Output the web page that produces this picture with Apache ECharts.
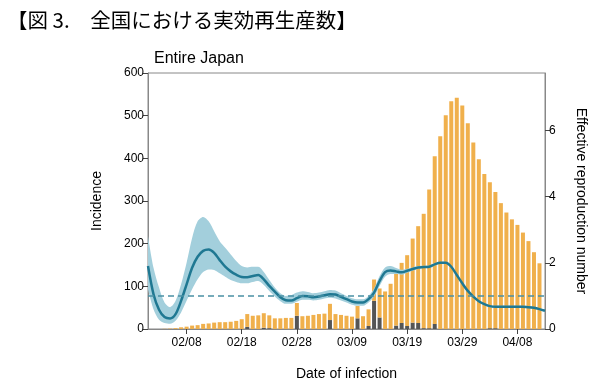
<!DOCTYPE html>
<html>
<head>
<meta charset="utf-8">
<script src="https://cdn.jsdelivr.net/npm/echarts@6/dist/echarts.min.js"></script>
<style>html,body{margin:0;padding:0;background:#fff;}#c{width:610px;height:386px;}</style>
</head>
<body>
<div id="c"></div>
<script>
const dates = ["02/01","02/02","02/03","02/04","02/05","02/06","02/07","02/08","02/09","02/10","02/11","02/12","02/13","02/14","02/15","02/16","02/17","02/18","02/19","02/20","02/21","02/22","02/23","02/24","02/25","02/26","02/27","02/28","02/29","03/01","03/02","03/03","03/04","03/05","03/06","03/07","03/08","03/09","03/10","03/11","03/12","03/13","03/14","03/15","03/16","03/17","03/18","03/19","03/20","03/21","03/22","03/23","03/24","03/25","03/26","03/27","03/28","03/29","03/30","03/31","04/01","04/02","04/03","04/04","04/05","04/06","04/07","04/08","04/09","04/10","04/11","04/12","04/13"];
const totalCases = [0,0,0,0.5,1,2,4,5.5,8,9,12,13,15,16,16,17,19,23,35,31,32,37,32,25,25,26,26,61,30,31,33,35,36,59,35,33,31,29,54,30,46,116,95,88,106,130,155,173,212,241,270,327,405,452,501,534,542,524,482,437,398,363,344,321,295,273,257,244,226,206,180,154,null];
const darkCases = [0,0,0,0,0,0,0,0,0,0,0,0,0,0,0,0,0,0,5,0,0,3,2,0,0,0,0,31,0,0,0,0,0,21,0,0,0,0,25,0,7,66,27,0,0,8,14,7,15,14,2,2,12,0,0,0,0,0,0,0,0,0,2,2,0,0,0,0,0,0,0,0,null];
const rt = [1.90,1.05,0.58,0.36,0.32,0.45,0.85,1.35,1.85,2.18,2.36,2.40,2.30,2.08,1.88,1.74,1.64,1.57,1.56,1.60,1.63,1.50,1.30,1.13,0.96,0.87,0.86,0.93,1.00,0.99,0.96,0.98,1.02,1.05,1.04,0.97,0.90,0.83,0.80,0.80,0.90,1.10,1.45,1.72,1.77,1.74,1.71,1.76,1.81,1.86,1.87,1.88,1.95,2.00,2.00,1.88,1.63,1.38,1.15,0.98,0.84,0.75,0.69,0.67,0.67,0.67,0.67,0.67,0.67,0.66,0.64,0.60,0.55];
const rtLower = [1.20,0.60,0.28,0.18,0.16,0.25,0.50,0.85,1.20,1.50,1.72,1.80,1.78,1.68,1.58,1.48,1.42,1.38,1.38,1.42,1.45,1.33,1.15,0.98,0.84,0.76,0.76,0.82,0.88,0.88,0.86,0.88,0.92,0.94,0.92,0.86,0.80,0.73,0.70,0.70,0.80,0.98,1.30,1.58,1.66,1.66,1.64,1.70,1.76,1.82,1.84,1.85,1.92,1.97,1.97,1.85,1.60,1.35,1.12,0.95,0.81,0.72,0.66,0.64,0.64,0.64,0.64,0.64,0.64,0.63,0.61,0.57,0.52];
const rtUpper = [2.80,1.85,1.25,0.80,0.66,0.85,1.35,2.00,2.75,3.25,3.38,3.25,2.95,2.65,2.45,2.25,2.05,1.90,1.86,1.88,1.88,1.72,1.48,1.25,1.08,1.00,1.02,1.10,1.14,1.12,1.08,1.10,1.14,1.18,1.16,1.08,1.00,0.93,0.90,0.90,1.00,1.22,1.60,1.86,1.90,1.84,1.79,1.82,1.86,1.90,1.91,1.92,1.99,2.03,2.03,1.91,1.66,1.41,1.18,1.01,0.87,0.78,0.72,0.70,0.70,0.70,0.70,0.70,0.70,0.69,0.67,0.63,0.58];
const leftTicks = {min:0, max:600, interval:100};
const rightTicks = {min:0, max:7.73, interval:2};

const orangePart = totalCases.map((t,i)=> t==null ? null : t - (darkCases[i]||0));
const bandWidth = rtUpper.map((u,i)=> u - rtLower[i]);
const labelShow = (idx) => (idx - 7) % 10 === 0;

const chart = echarts.init(document.getElementById('c'), null, {renderer:'canvas'});
const fam = '"Liberation Sans", Arial, sans-serif';
chart.setOption({
  animation:false,
  backgroundColor:'#fff',
  title:[
    {text:'【図 3.　全国における実効再生産数】', left:2, top:5, textStyle:{fontFamily:'"Noto Sans CJK JP", sans-serif', fontSize:20.5, fontWeight:'normal', color:'#000'}},
    {text:'Entire Japan', left:149, top:46, textStyle:{fontFamily:fam, fontSize:16, fontWeight:'normal', color:'#000'}}
  ],
  grid:{left:148, right:65, top:73, bottom:57, show:true, borderColor:'#888', borderWidth:1, backgroundColor:'transparent'},
  xAxis:{
    type:'category', data:dates, boundaryGap:false,
    name:'Date of infection', nameLocation:'middle', nameGap:38,
    nameTextStyle:{fontFamily:fam, fontSize:14, color:'#000'},
    axisLine:{lineStyle:{color:'#888'}},
    axisTick:{interval:labelShow, length:5, lineStyle:{color:'#444'}},
    axisLabel:{interval:labelShow, fontFamily:fam, fontSize:12, color:'#000', margin:8},
    splitLine:{show:false}
  },
  yAxis:[
    {type:'value', min:leftTicks.min, max:leftTicks.max, interval:leftTicks.interval,
     name:'Incidence', nameLocation:'middle', nameGap:44, nameRotate:90,
     nameTextStyle:{fontFamily:fam, fontSize:14, color:'#000'},
     axisLine:{show:true, lineStyle:{color:'#888'}},
     axisTick:{show:true, length:5, lineStyle:{color:'#444'}},
     axisLabel:{fontFamily:fam, fontSize:12, color:'#000', margin:4},
     splitLine:{show:false}},
    {type:'value', min:rightTicks.min, max:rightTicks.max, interval:rightTicks.interval, position:'right',
     name:'Effective reproduction number', nameLocation:'middle', nameGap:29, nameRotate:-90,
     nameTextStyle:{fontFamily:fam, fontSize:14, color:'#000'},
     axisLine:{show:true, lineStyle:{color:'#888'}},
     axisTick:{show:true, length:5, lineStyle:{color:'#444'}},
     axisLabel:{fontFamily:fam, fontSize:12, color:'#000', margin:4, showMaxLabel:false},
     splitLine:{show:false}}
  ],
  series:[
    {type:'bar', name:'dark', stack:'cases', data:darkCases, barWidth:4, itemStyle:{color:'#555555'}},
    {type:'bar', name:'orange', stack:'cases', data:orangePart, barWidth:4, itemStyle:{color:'#f0b04c'}},
    {type:'line', name:'lower', yAxisIndex:1, stack:'band', data:rtLower, symbol:'none', smooth:0.3, lineStyle:{opacity:0}, z:3},
    {type:'line', name:'band', yAxisIndex:1, stack:'band', data:bandWidth, symbol:'none', smooth:0.3, lineStyle:{opacity:0}, areaStyle:{color:'#a3cfdc', opacity:1}, z:3},
    {type:'line', name:'Rt', yAxisIndex:1, data:rt, symbol:'none', smooth:0.3, lineStyle:{color:'#1f7892', width:2.5}, z:4,
     markLine:{symbol:'none', silent:true, label:{show:false}, lineStyle:{color:'#4a90a4', type:[6,4], width:1.5}, data:[{yAxis:1}]}}
  ]
});
</script>
</body>
</html>
